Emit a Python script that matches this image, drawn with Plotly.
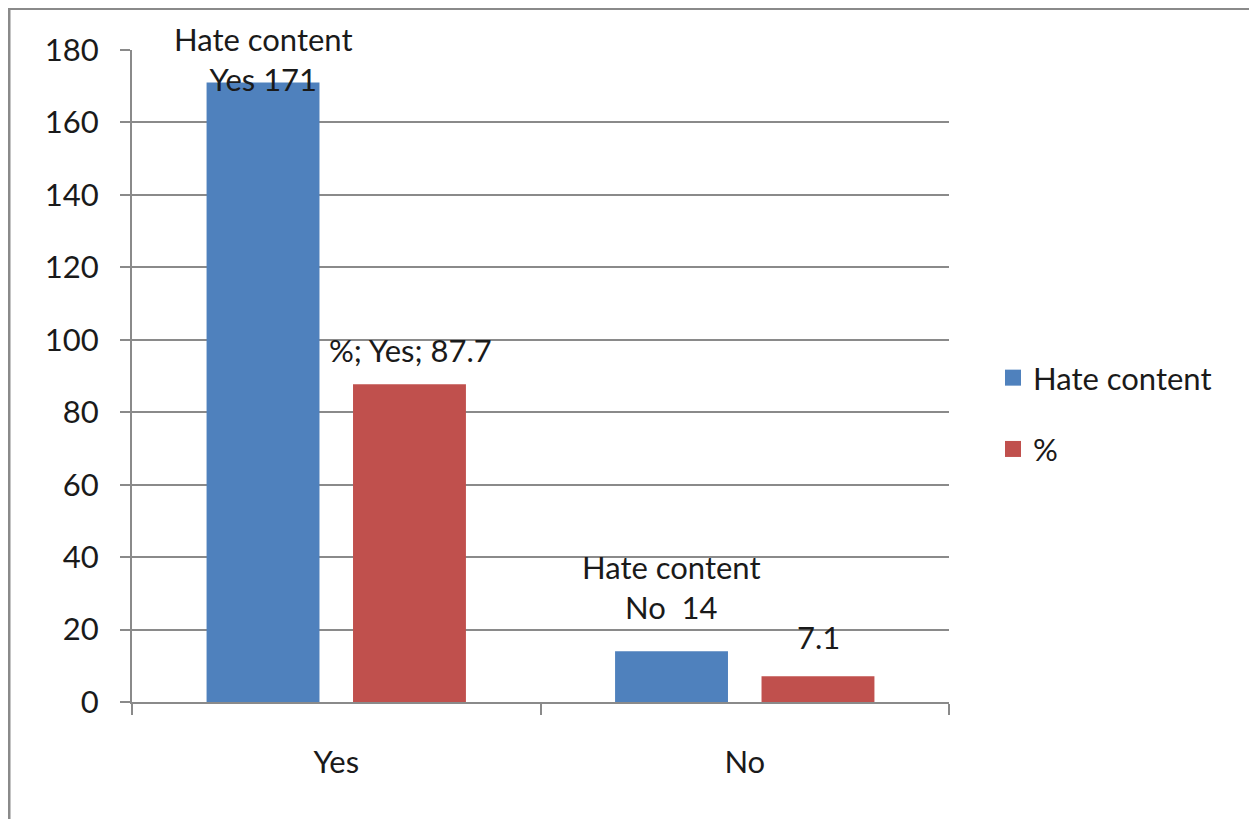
import plotly.graph_objects as go

categories = ["Yes", "No"]
hate_content = [171, 14]
percent = [87.7, 7.1]
series_names = ["Hate content", "%"]
y_ticks = [0, 20, 40, 60, 80, 100, 120, 140, 160, 180]

BLUE = "#4F81BD"
RED = "#C0504D"
FONT = "Lato"
FS = 31
TXT = "#1a1a1a"
GRID = "#8a8a8a"

W, H = 1257, 819
OFF = 8  # page offset of the figure inside the window
# target screen coordinates of the plot area
SX0, SX1, SY0, SY1 = 132, 949, 50, 702
L = SX0 - OFF
T = SY0 - OFF
R = W - (SX1 - OFF)
B = H - (SY1 - OFF)
PW = SX1 - SX0
PH = SY1 - SY0


def px(sx):
    return (sx - SX0) / PW


def py(sy):
    return (SY1 - sy) / PH


fig = go.Figure()
fig.add_trace(go.Bar(x=categories, y=hate_content, name=series_names[0],
                     marker=dict(color=BLUE, line=dict(width=0)), showlegend=False))
fig.add_trace(go.Bar(x=categories, y=percent, name=series_names[1],
                     marker=dict(color=RED, line=dict(width=0)), showlegend=False))
# legend entries (square swatches)
for name, col in zip(series_names, [BLUE, RED]):
    fig.add_trace(go.Scatter(x=[None], y=[None], mode="markers", name=name,
                             legendgroup=name,
                             marker=dict(symbol="square", size=16, color=col)))

# data labels
lab = dict(size=FS, color=TXT, family=FONT)
fig.add_annotation(x=categories[0], y=hate_content[0], xref="x", yref="y",
                   text=f"{series_names[0]}<br>{categories[0]} {hate_content[0]}",
                   showarrow=False, xshift=-73, yshift=24, font=lab)
fig.add_annotation(x=categories[0], y=percent[0], xref="x", yref="y",
                   text=f"{series_names[1]}; {categories[0]}; {percent[0]}",
                   showarrow=False, xshift=74, yshift=34, font=lab)
fig.add_annotation(x=categories[1], y=hate_content[1], xref="x", yref="y",
                   text=f"{series_names[0]}<br>{categories[1]}  {hate_content[1]}",
                   showarrow=False, xshift=-73, yshift=64, font=lab)
fig.add_annotation(x=categories[1], y=percent[1], xref="x", yref="y",
                   text=f"{percent[1]}",
                   showarrow=False, xshift=74, yshift=39, font=lab)

# outer chart border
fig.add_shape(type="rect", xref="paper", yref="paper",
              x0=px(9), x1=px(W + 30), y0=py(H + 30), y1=py(8.5),
              line=dict(color="#8a8a8a", width=3), fillcolor="rgba(0,0,0,0)", layer="below")

fig.update_layout(
    width=W, height=H,
    margin=dict(l=L, r=R, t=T, b=B, pad=0),
    paper_bgcolor="white", plot_bgcolor="white",
    barmode="group", bargap=0.283, bargroupgap=0.229,
    font=dict(family=FONT, size=FS, color=TXT),
    legend=dict(x=px(993), y=py(351), xanchor="left", yanchor="top",
                font=dict(size=FS, family=FONT, color=TXT),
                itemwidth=30, tracegroupgap=28, traceorder="grouped",
                bgcolor="rgba(0,0,0,0)", itemsizing="trace"),
    showlegend=True,
)
fig.update_xaxes(showgrid=False, showline=True, linecolor=GRID, linewidth=2,
                 ticks="outside", tickson="boundaries", ticklen=11, tickcolor=GRID,
                 tickwidth=2, ticklabelstandoff=32,
                 tickfont=dict(size=FS, family=FONT, color=TXT))
fig.update_yaxes(range=[0, 180], tickvals=y_ticks, showgrid=True, gridcolor=GRID,
                 gridwidth=1.5, showline=True, linecolor=GRID, linewidth=2,
                 ticks="outside", ticklen=10, tickcolor=GRID, tickwidth=2,
                 ticklabelstandoff=15,
                 tickfont=dict(size=FS, family=FONT, color=TXT), zeroline=False)

fig.write_html("out.html")
